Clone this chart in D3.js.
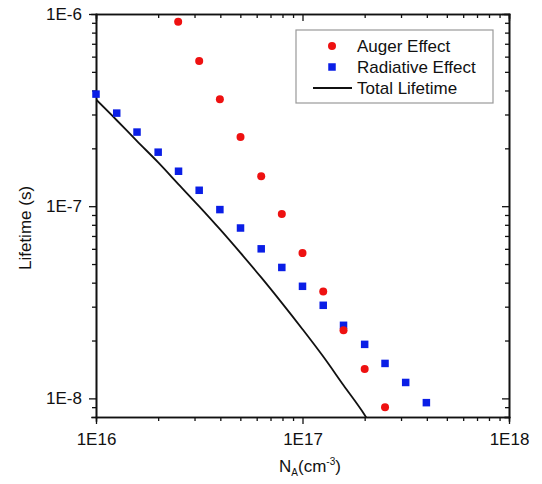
<!DOCTYPE html>
<html>
<head>
<meta charset="utf-8">
<script src="https://d3js.org/d3.v7.min.js"></script>
<style>
  body{margin:0;background:#fff;}
  text{font-family:"Liberation Sans",Arial,sans-serif;fill:#111;}
  .axis path,.axis line{stroke:#111;}
</style>
</head>
<body>
<script>
// doping concentration (cm^-3)
const augerN = [2.5e16,3.16e16,3.98e16,5.01e16,6.31e16,7.94e16,1e17,1.26e17,1.58e17,2e17,2.51e17];
const augerT = [9.1e-7,5.7e-7,3.6e-7,2.29e-7,1.43e-7,9.1e-8,5.7e-8,3.6e-8,2.26e-8,1.42e-8,8.98e-9];

const radN = [1e16,1.26e16,1.58e16,2e16,2.51e16,3.16e16,3.98e16,5.01e16,6.31e16,7.94e16,1e17,1.26e17,1.58e17,2e17,2.51e17,3.16e17,3.98e17];
const radT = [3.83e-7,3.05e-7,2.43e-7,1.91e-7,1.52e-7,1.21e-7,9.6e-8,7.7e-8,6.0e-8,4.8e-8,3.83e-8,3.05e-8,2.4e-8,1.91e-8,1.52e-8,1.21e-8,9.5e-9];

const totN = [1e16,1.26e16,1.58e16,2e16,2.51e16,3.16e16,3.98e16,5.01e16,6.31e16,7.94e16,1e17,1.26e17,1.58e17,2e17,2.1e17];
const totT = [3.59e-7,2.8e-7,2.18e-7,1.69e-7,1.3e-7,9.98e-8,7.59e-8,5.71e-8,4.26e-8,3.14e-8,2.29e-8,1.65e-8,1.17e-8,8.2e-9,7.55e-9];

const xTicks = [1e16,1e17,1e18];
const xTickLabels = ["1E16","1E17","1E18"];
const yTicks = [1e-8,1e-7,1e-6];
const yTickLabels = ["1E-8","1E-7","1E-6"];
const legendNames = ["Auger Effect","Radiative Effect","Total Lifetime"];

const W = 542, H = 484;
const m = {left:96, top:14, right:33, bottom:67};
const iw = W-m.left-m.right, ih = H-m.top-m.bottom;
const fs = 17;

const x = d3.scaleLog().domain([1e16,1e18]).range([0,iw]);
const y = d3.scaleLog().domain([8e-9,1e-6]).range([ih,0]);

const svg = d3.select("body").append("svg").attr("width",W).attr("height",H);
const g = svg.append("g").attr("transform","translate("+m.left+","+m.top+")");

// minor ticks
const xMinor = [];
for(let e=16;e<18;e++) for(let k=2;k<10;k++) xMinor.push(k*Math.pow(10,e));
const yMinor = [];
for(let e=-9;e<-6;e++) for(let k=2;k<10;k++){ const v=k*Math.pow(10,e); if(v>=8e-9 && v<=1e-6) yMinor.push(v); }

function axisG(axis,tr){
  const a = g.append("g").attr("class","axis").attr("transform",tr).call(axis);
  a.select(".domain").attr("stroke-width",1.6);
  a.selectAll("line").attr("stroke-width",1.3);
  return a;
}

// bottom
axisG(d3.axisBottom(x).tickValues(xMinor).tickSize(4).tickFormat(""),"translate(0,"+ih+")");
const xb = axisG(d3.axisBottom(x).tickValues(xTicks).tickSize(7).tickSizeOuter(0).tickPadding(6)
  .tickFormat((d,i)=>xTickLabels[i]),"translate(0,"+ih+")");
xb.selectAll("text").attr("font-size",fs).attr("dy","0.9em");
// top
axisG(d3.axisTop(x).tickValues(xMinor).tickSize(-4).tickFormat(""),"translate(0,0)");
axisG(d3.axisTop(x).tickValues(xTicks).tickSize(-7).tickSizeOuter(0).tickFormat(""),"translate(0,0)");
// left
axisG(d3.axisLeft(y).tickValues(yMinor).tickSize(4).tickFormat(""),"translate(0,0)");
const yl = axisG(d3.axisLeft(y).tickValues(yTicks).tickSize(7).tickSizeOuter(0).tickPadding(7)
  .tickFormat((d,i)=>yTickLabels[i]),"translate(0,0)");
yl.selectAll("text").attr("font-size",fs);
// right
axisG(d3.axisRight(y).tickValues(yMinor).tickSize(-4).tickFormat(""),"translate("+iw+",0)");
axisG(d3.axisRight(y).tickValues(yTicks).tickSize(-7).tickSizeOuter(0).tickFormat(""),"translate("+iw+",0)");

svg.selectAll(".axis .domain").attr("stroke-linecap","square");

// clip
g.append("clipPath").attr("id","clip").append("rect").attr("width",iw).attr("height",ih);
const plot = g.append("g").attr("clip-path","url(#clip)");

// total line
const line = d3.line().x(d=>x(d[0])).y(d=>y(d[1])).curve(d3.curveMonotoneX);
plot.append("path").datum(d3.zip(totN,totT)).attr("d",line)
  .attr("fill","none").attr("stroke","#111").attr("stroke-width",1.8);

// squares
const s = 7.5;
g.selectAll("rect.rad").data(d3.zip(radN,radT)).enter().append("rect").attr("class","rad")
  .attr("x",d=>x(d[0])-s/2).attr("y",d=>y(d[1])-s/2).attr("width",s).attr("height",s)
  .attr("fill","#0a1ee6");

// circles
g.selectAll("circle.aug").data(d3.zip(augerN,augerT)).enter().append("circle").attr("class","aug")
  .attr("cx",d=>x(d[0])).attr("cy",d=>y(d[1])).attr("r",4)
  .attr("fill","#ee1111");

// legend
const lg = svg.append("g").attr("transform","translate(296,30)");
lg.append("rect").attr("width",197).attr("height",73).attr("fill","#fff")
  .attr("stroke","#999").attr("stroke-width",1.2);
const rowY = [16,37,58];
lg.append("circle").attr("cx",36).attr("cy",rowY[0]).attr("r",4).attr("fill","#ee1111");
lg.append("rect").attr("x",36-s/2).attr("y",rowY[1]-s/2).attr("width",s).attr("height",s).attr("fill","#0a1ee6");
lg.append("line").attr("x1",17).attr("x2",56).attr("y1",rowY[2]).attr("y2",rowY[2])
  .attr("stroke","#111").attr("stroke-width",1.8);
lg.selectAll("text.lt").data(legendNames).enter().append("text").attr("class","lt")
  .attr("x",61).attr("y",(d,i)=>rowY[i]).attr("dy","0.36em").attr("font-size",fs).text(d=>d);

// axis titles
const xt = svg.append("text").attr("x",310).attr("y",472).attr("text-anchor","middle").attr("font-size",fs);
xt.append("tspan").text("N");
xt.append("tspan").attr("font-size",10).attr("dy",4).text("A");
xt.append("tspan").attr("dy",-4).text("(cm");
xt.append("tspan").attr("font-size",10).attr("dy",-7).text("-3");
xt.append("tspan").attr("dy",7).text(")");

svg.append("text").attr("transform","translate(31,228) rotate(-90)")
  .attr("text-anchor","middle").attr("font-size",fs).text("Lifetime (s)");
</script>
</body>
</html>
